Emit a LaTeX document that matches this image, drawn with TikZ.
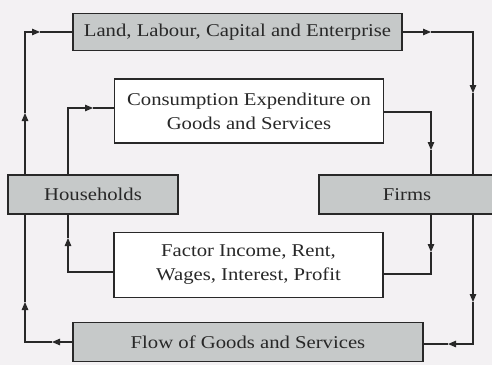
\documentclass[tikz,border=0pt]{standalone}
\usepackage{fontspec}
\setmainfont{Liberation Serif}[FakeStretch=1.15]
\usetikzlibrary{arrows.meta,positioning,backgrounds}

\definecolor{paper}{RGB}{243,241,243}
\definecolor{boxgray}{RGB}{198,201,201}
\definecolor{ink}{RGB}{40,40,40}

\tikzset{
  sector/.style={draw=ink,line width=1.2pt,fill=boxgray,inner sep=0pt,text=ink},
  payment/.style={draw=ink,line width=1.2pt,fill=white,inner sep=0pt,align=center,text=ink},
  link/.style={draw=ink,line width=1.1pt},
  tip/.style={link,-{Triangle[length=8pt,width=6.5pt]}}
}

\begin{document}
\begin{tikzpicture}[x=1pt,y=-1pt,font=\fontsize{18}{24}\selectfont]
\useasboundingbox (0,0) rectangle (492,365);

% factor and goods markets
\node[sector,minimum width=329pt,minimum height=37pt] (land) at (237.5,32) {Land, Labour, Capital and Enterprise};
\node[sector,minimum width=350pt,minimum height=39pt] (goods) at (248,342) {Flow of Goods and Services};
\node[sector,minimum width=170pt,minimum height=39pt] (house) at (93,194.5) {Households};
\node[sector,minimum width=176pt,minimum height=39pt] (firms) at (407,194.5) {Firms};

% money flows
\node[payment,minimum width=269pt,minimum height=64pt] (spend) at (249,111) {Consumption Expenditure on\\Goods and Services};
\node[payment,minimum width=269pt,minimum height=65pt] (income) at (248.5,265) {Factor Income, Rent,\\Wages, Interest, Profit};

\begin{scope}[on background layer]
\fill[paper] (0,0) rectangle (492,365);
% outer loop, left
\draw[tip] (goods.west) -- (52,342);
\draw[tip] (52,342) -| (25,302);
\draw[tip] (25,302) -- (25,113);
\draw[tip] (25,113) |- (40,32);
\draw[link] (40,32) -- (land.west);
% outer loop, right
\draw[tip] (land.east) -- (431,32);
\draw[tip] (431,32) -| (473,93);
\draw[tip] (473,93) -- (473,302);
\draw[tip] (473,302) |- (448,344);
\draw[link] (448,344) -- (goods.east |- 0,344);
% inner loop, left
\draw[tip] (income.west |- 0,272) -| (68,238);
\draw[tip] (68,238) |- (93,108);
\draw[link] (93,108) -- (spend.west |- 0,108);
% inner loop, right
\draw[tip] (spend.east |- 0,112) -| (431,150);
\draw[tip] (431,150) -- (431,252);
\draw[link] (431,252) |- (income.east |- 0,274);
\end{scope}
\end{tikzpicture}
\end{document}
